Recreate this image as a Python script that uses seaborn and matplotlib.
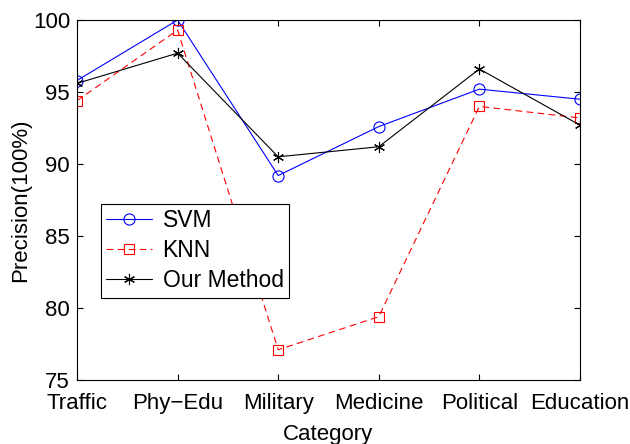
import matplotlib
matplotlib.use("Agg")
import matplotlib.pyplot as plt
import seaborn as sns
import pandas as pd

categories = ["Traffic", "Phy\u2212Edu", "Military", "Medicine", "Political", "Education"]
svm = [95.8, 100.0, 89.2, 92.6, 95.2, 94.5]
knn = [94.4, 99.3, 77.1, 79.4, 94.0, 93.2]
ours = [95.6, 97.7, 90.5, 91.2, 96.6, 92.7]
yticks = [75, 80, 85, 90, 95, 100]

sns.set_style("white")
plt.rcParams['font.family'] = ['Liberation Sans', 'DejaVu Sans']
plt.rcParams['axes.linewidth'] = 0.8
for k in ['text.color', 'axes.labelcolor', 'xtick.color', 'ytick.color', 'axes.edgecolor']:
    plt.rcParams[k] = 'black'

fig = plt.figure(figsize=(6.3, 4.44), dpi=100)
ax = fig.add_axes([0.1222, 0.1441, 0.7984, 0.8108])

pos = list(range(len(categories)))
df = pd.DataFrame({"pos": pos, "SVM": svm, "KNN": knn, "Our Method": ours})

sns.lineplot(data=df, x="pos", y="SVM", ax=ax, color="#0000ff", lw=0.8,
             marker="o", markersize=8, markerfacecolor="none",
             markeredgecolor="#0000ff", markeredgewidth=0.8, label="SVM")
sns.lineplot(data=df, x="pos", y="KNN", ax=ax, color="#ff0000", lw=0.8,
             linestyle=(0, (6, 4)),
             marker="s", markersize=7, markerfacecolor="none",
             markeredgecolor="#ff0000", markeredgewidth=0.8, label="KNN")
sns.lineplot(data=df, x="pos", y="Our Method", ax=ax, color="black", lw=0.8,
             marker=(6, 2, 0), markersize=8, markeredgecolor="black",
             markeredgewidth=0.8, label="Our Method")

ax.set_xlim(0, 5)
ax.set_ylim(75, 100)
ax.set_xticks(pos)
ax.set_xticklabels(categories)
ax.set_yticks(yticks)
ax.set_yticklabels([str(v) for v in yticks])
ax.tick_params(direction="in", length=4, width=0.8, labelsize=16,
               top=True, right=True, bottom=True, left=True, pad=5,
               colors="black")
ax.tick_params(axis="x", pad=9.5)
ax.set_xlabel("Category", fontsize=16, labelpad=7, color="black")
ax.set_ylabel("Precision(100%)", fontsize=16, labelpad=1, color="black")
for s in ax.spines.values():
    s.set_color("black")
    s.set_linewidth(0.8)

leg = ax.legend(loc="lower left", bbox_to_anchor=(0.047, 0.228), borderaxespad=0,
                fontsize=16.5, fancybox=False, edgecolor="black", framealpha=1,
                handlelength=2.0, labelspacing=0.3, borderpad=0.25, handletextpad=0.45)
leg.get_frame().set_linewidth(0.8)
for t in leg.get_texts():
    t.set_color("black")

fig.savefig("out.png", dpi=100)
